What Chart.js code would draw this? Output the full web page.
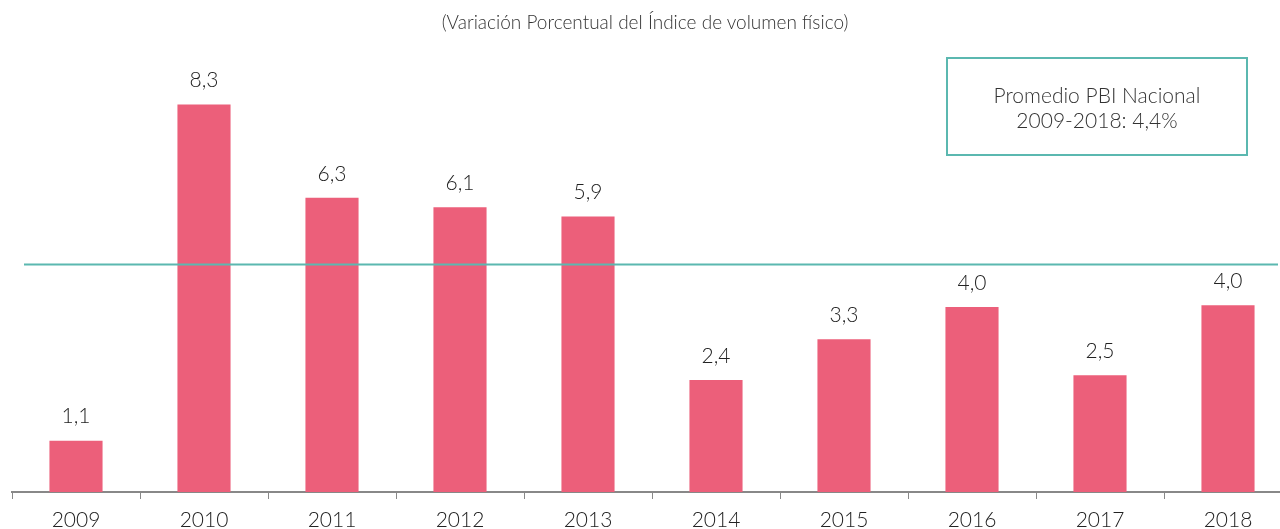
<!DOCTYPE html>
<html>
<head>
<meta charset="utf-8">
<script src="https://cdn.jsdelivr.net/npm/chart.js@4.4.0/dist/chart.umd.min.js"></script>
<style>
  html, body { margin: 0; padding: 0; background: #fff; overflow: hidden; }
  #wrap { position: relative; width: 1300px; height: 529px; overflow: hidden; }
  #titulo {
    position: absolute; left: 0; top: 10px; width: 1290px; text-align: center;
    font-family: Lato, sans-serif; font-weight: 300; font-size: 19px; color: #333;
  }
  #caja {
    position: absolute; left: 946px; top: 57px; width: 298px; height: 95px;
    border: 2px solid #5bb8b0; box-sizing: content-box;
    font-family: Lato, sans-serif; font-weight: 300; font-size: 21px; color: #333;
    text-align: center; line-height: 25px;
    display: flex; align-items: center; justify-content: center;
  }
</style>
</head>
<body>
<div id="wrap">
  <canvas id="grafico" width="1300" height="542"></canvas>
  <div id="titulo">(Variación Porcentual del Índice de volumen físico)</div>
  <div id="caja"><div>Promedio PBI Nacional<br>2009-2018: 4,4%</div></div>
</div>
<script>
const anios = ['2009', '2010', '2011', '2012', '2013', '2014', '2015', '2016', '2017', '2018'];
const variacion = [1.1, 8.3, 6.3, 6.1, 5.9, 2.4, 3.27, 3.96, 2.5, 4.0];
const etiquetas = ['1,1', '8,3', '6,3', '6,1', '5,9', '2,4', '3,3', '4,0', '2,5', '4,0'];
// posición de la línea de promedio tal como aparece en el gráfico
const promedioLinea = 4.88;

const colorBarra = '#ec5f7a';
const colorLinea = '#5bb8b0';

const lineaPromedio = {
  id: 'lineaPromedio',
  afterDatasetsDraw(chart) {
    const { ctx, scales } = chart;
    const y = Math.round(scales.y.getPixelForValue(promedioLinea)) + 0.5;
    ctx.save();
    ctx.strokeStyle = colorLinea;
    ctx.lineWidth = 2;
    ctx.beginPath();
    ctx.moveTo(24, y);
    ctx.lineTo(1278, y);
    ctx.stroke();
    ctx.restore();
  }
};

const etiquetasBarras = {
  id: 'etiquetasBarras',
  afterDatasetsDraw(chart) {
    const { ctx } = chart;
    const meta = chart.getDatasetMeta(0);
    ctx.save();
    ctx.fillStyle = '#222';
    ctx.font = '300 21px Lato, sans-serif';
    ctx.textAlign = 'center';
    ctx.textBaseline = 'middle';
    meta.data.forEach((bar, i) => {
      ctx.fillText(etiquetas[i], bar.x, bar.y - 24);
    });
    ctx.restore();
  }
};

new Chart(document.getElementById('grafico'), {
  type: 'bar',
  data: {
    labels: anios,
    datasets: [{
      data: variacion,
      backgroundColor: colorBarra,
      borderWidth: 0,
      barPercentage: 0.415,
      categoryPercentage: 1
    }]
  },
  options: {
    responsive: false,
    animation: false,
    layout: { padding: { left: 12, right: 8, top: 25, bottom: 0 } },
    plugins: {
      legend: { display: false },
      tooltip: { enabled: false }
    },
    scales: {
      y: {
        display: false,
        min: 0,
        max: 10
      },
      x: {
        offset: true,
        grid: {
          display: true,
          drawOnChartArea: false,
          drawTicks: true,
          tickLength: 7,
          color: '#888',
          offset: true
        },
        border: { display: true, color: '#888', width: 2 },
        ticks: {
          color: '#222',
          padding: 11,
          font: { family: 'Lato, sans-serif', size: 21, weight: '300', lineHeight: 1 }
        }
      }
    }
  },
  plugins: [lineaPromedio, etiquetasBarras]
});
</script>
</body>
</html>
